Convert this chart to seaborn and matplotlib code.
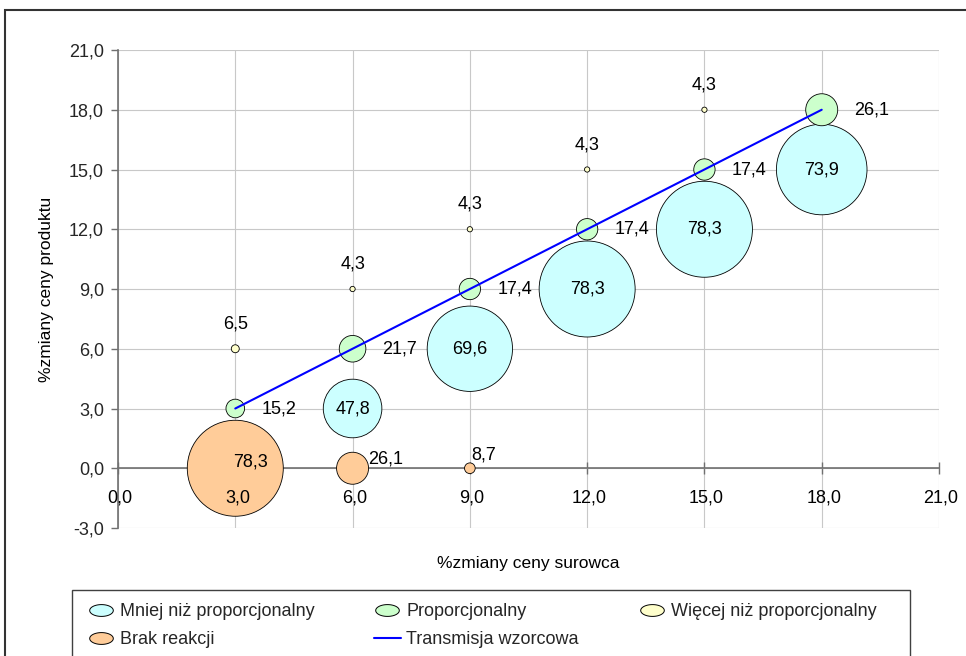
import numpy as np
import pandas as pd
import matplotlib
matplotlib.use("Agg")
import matplotlib.pyplot as plt
import seaborn as sns
from matplotlib.lines import Line2D
from matplotlib.path import Path
from matplotlib.patches import Rectangle

# ---------------- data ----------------
series_names = ["Mniej niż proporcjonalny", "Proporcjonalny",
                "Więcej niż proporcjonalny", "Brak reakcji"]

mniej_x = [6, 9, 12, 15, 18]
mniej_y = [3, 6, 9, 12, 15]
mniej_v = [47.8, 69.6, 78.3, 78.3, 73.9]

prop_x = [3, 6, 9, 12, 15, 18]
prop_y = [3, 6, 9, 12, 15, 18]
prop_v = [15.2, 21.7, 17.4, 17.4, 17.4, 26.1]

wiecej_x = [3, 6, 9, 12, 15]
wiecej_y = [6, 9, 12, 15, 18]
wiecej_v = [6.5, 4.3, 4.3, 4.3, 4.3]

brak_x = [3, 6, 9]
brak_y = [0, 0, 0]
brak_v = [78.3, 26.1, 8.7]

line_name = "Transmisja wzorcowa"
line_x = [3, 18]
line_y = [3, 18]

x_ticks = [0, 3, 6, 9, 12, 15, 18, 21]
y_ticks = [-3, 0, 3, 6, 9, 12, 15, 18, 21]

x_title = "%zmiany ceny surowca"
y_title = "%zmiany ceny produktu"

# ---------------- styling ----------------
colors = {
    "Mniej niż proporcjonalny": "#CCFFFF",
    "Proporcjonalny": "#CCFFCC",
    "Więcej niż proporcjonalny": "#FFFFCC",
    "Brak reakcji": "#FFCC99",
}
PX_PER_VALUE = 1.226  # bubble diameter (px) per unit of value (Excel: width-proportional)
DPI = 100
FS = 13

def fmt(v):
    return f"{v:.1f}".replace(".", ",")

frames = []
for name, xs, ys, vs in [
    ("Mniej niż proporcjonalny", mniej_x, mniej_y, mniej_v),
    ("Proporcjonalny", prop_x, prop_y, prop_v),
    ("Więcej niż proporcjonalny", wiecej_x, wiecej_y, wiecej_v),
    ("Brak reakcji", brak_x, brak_y, brak_v),
]:
    frames.append(pd.DataFrame({"x": xs, "y": ys, "v": vs, "series": name}))
df = pd.concat(frames, ignore_index=True)
df["v2"] = df["v"] ** 2
vmax = df["v"].max()
smax = (PX_PER_VALUE * 72 / DPI * vmax) ** 2

sns.set_theme(style="white")
plt.rcParams["font.family"] = ["Liberation Sans", "DejaVu Sans"]

W, H = 966, 656
fig = plt.figure(figsize=(W / DPI, H / DPI), dpi=DPI)
ax = fig.add_axes([118 / W, 1 - 528 / H, (939 - 118) / W, (528 - 50) / H])

sns.scatterplot(data=df, x="x", y="y", hue="series", palette=colors,
                size="v2", sizes=(0, smax), size_norm=(0, vmax ** 2),
                edgecolor="black", linewidth=0.6, alpha=1, legend=False,
                ax=ax, zorder=3)
sns.lineplot(x=line_x, y=line_y, color="#0000FF", linewidth=1.5, ax=ax,
             zorder=4, legend=False)

ax.set_xlim(0, 21)
ax.set_ylim(-3, 21)
ax.set_xticks(x_ticks)
ax.set_yticks(y_ticks)
ax.set_yticklabels([fmt(t) for t in y_ticks])
ax.set_xticklabels([])
ax.grid(True, color="#C8C8C8", linewidth=0.8)
ax.set_axisbelow(True)

for s in ["top", "right"]:
    ax.spines[s].set_visible(False)
ax.spines["bottom"].set_position(("data", 0))
ax.spines["bottom"].set_color("#707070")
ax.spines["left"].set_color("#707070")
ax.spines["bottom"].set_linewidth(1.2)
ax.spines["left"].set_linewidth(1.2)

ax.tick_params(axis="y", direction="out", length=5, width=1, color="#707070",
               labelsize=FS, pad=5, left=True)
ax.tick_params(axis="x", direction="inout", length=8, width=1, color="#707070",
               bottom=True)

# x tick labels drawn on top of the bubbles (as in the reference)
for t in x_ticks:
    ax.annotate(fmt(t), (t, 0), xytext=(1.5, -15), textcoords="offset points",
                ha="center", va="top", fontsize=FS, color="black", zorder=10)

ax.set_xlabel(x_title, fontsize=12.5, color="black")
ax.xaxis.set_label_coords(0.5, (528 - 556) / 478)
ax.set_ylabel(y_title, fontsize=12.5, color="black")
ax.yaxis.set_label_coords((54 - 118) / 821, 0.5)

# ---------------- data labels ----------------
pt_per_val = PX_PER_VALUE * 72 / DPI
orange_offsets = [(11, 4.5, "center"), (11.5, 6.5, "left"), (1, 9.5, "left")]
oi = 0
for _, r in df.iterrows():
    lab = fmt(r["v"])
    rad = pt_per_val * r["v"] / 2
    if r["series"] == "Mniej niż proporcjonalny":
        off, ha = (0, 0), "center"
    elif r["series"] == "Proporcjonalny":
        off, ha = (rad + 12, 0), "left"
    elif r["series"] == "Więcej niż proporcjonalny":
        off, ha = (0, 18), "center"
    else:
        dx, dy, ha = orange_offsets[oi]
        oi += 1
        off = (dx, dy)
    ax.annotate(lab, (r["x"], r["y"]), xytext=off, textcoords="offset points",
                ha=ha, va="center", fontsize=FS, color="black", zorder=11)

# ---------------- legend ----------------
t = np.linspace(0, 2 * np.pi, 60)
ell = Path(np.column_stack([np.cos(t), 0.5 * np.sin(t)]), closed=True)

def bubble_handle(name):
    return Line2D([], [], linestyle="none", marker=ell, markersize=17,
                  markerfacecolor=colors[name], markeredgecolor="black",
                  markeredgewidth=0.7)

handles = [bubble_handle("Mniej niż proporcjonalny"), bubble_handle("Brak reakcji"),
           bubble_handle("Proporcjonalny"),
           Line2D([], [], color="#0000FF", linewidth=1.5),
           bubble_handle("Więcej niż proporcjonalny")]
labels = ["Mniej niż proporcjonalny", "Brak reakcji", "Proporcjonalny",
          line_name, "Więcej niż proporcjonalny"]
fig.legend(handles, labels, loc="upper left",
           bbox_to_anchor=(78 / W, 1 - 594 / H), ncol=3, frameon=False,
           fontsize=FS, borderpad=0, handlelength=1.5, handletextpad=0.3,
           columnspacing=3.3, labelspacing=0.6)

fig.patches.append(Rectangle((72 / W, -0.05), (910 - 72) / W, (1 - 590 / H) + 0.05,
                             transform=fig.transFigure, fill=False,
                             edgecolor="#404040", linewidth=1.0))
fig.patches.append(Rectangle((5 / W, -0.05), 1.2, (1 - 10 / H) + 0.05,
                             transform=fig.transFigure, fill=False,
                             edgecolor="#333333", linewidth=1.5))

fig.savefig("out.png", dpi=DPI)
